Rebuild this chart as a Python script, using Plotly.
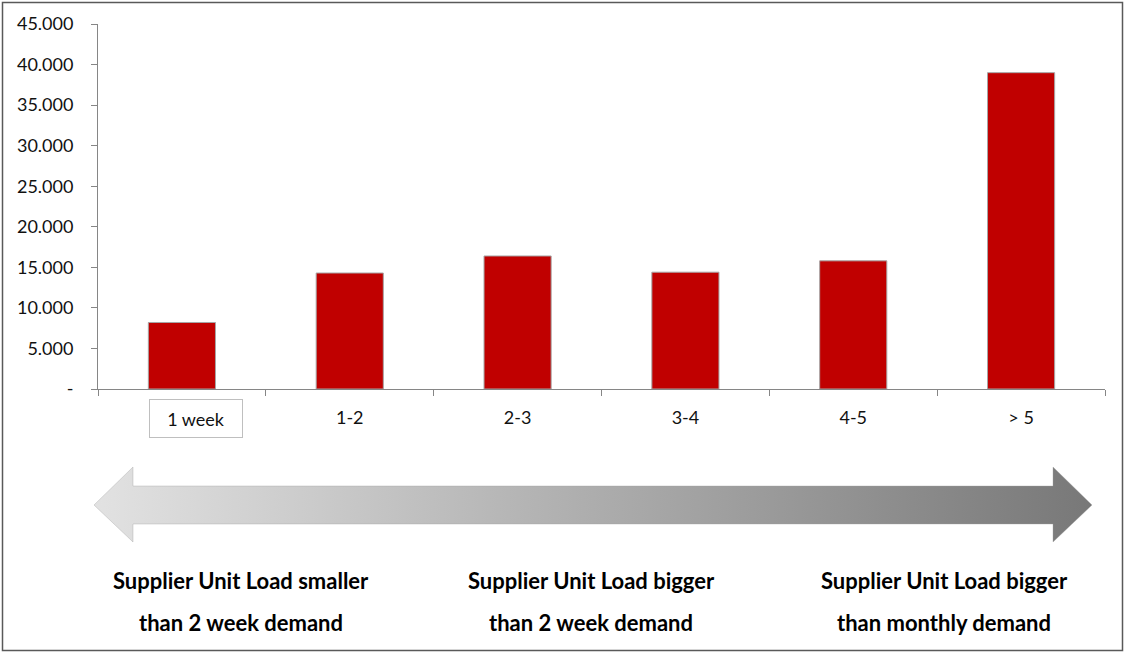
import plotly.graph_objects as go

categories = ["1 week", "1-2", "2-3", "3-4", "4-5", "> 5"]
values = [8200, 14300, 16400, 14400, 15800, 39000]
y_tickvals = [0, 5000, 10000, 15000, 20000, 25000, 30000, 35000, 40000, 45000]
y_ticktext = ["-", "5.000", "10.000", "15.000", "20.000", "25.000", "30.000", "35.000", "40.000", "45.000"]
x_ticktext = ["", "1-2", "2-3", "3-4", "4-5", "> 5"]
bottom_labels = [
    ("Supplier Unit Load smaller", "than 2 week demand"),
    ("Supplier Unit Load bigger", "than 2 week demand"),
    ("Supplier Unit Load bigger", "than monthly demand"),
]

W, H = 1125, 653
FONT = "Lato"
AX = "#868686"
TXT = "#111111"

fig = go.Figure()
fig.add_trace(go.Bar(
    x=categories, y=values, width=0.4,
    marker=dict(color="#c00000", line=dict(color="#a6a6a6", width=1)),
    xaxis="x", yaxis="y", showlegend=False,
))

# double-headed gradient arrow on a pixel-coordinate overlay axis
ax_x = [94, 133, 133, 1053, 1053, 1092, 1053, 1053, 133, 133, 94]
ax_y = [505, 467, 486, 486, 467, 505, 542, 524, 524, 542, 505]
fig.add_trace(go.Scatter(
    x=ax_x, y=ax_y, mode="lines", fill="toself",
    line=dict(width=0.6, color="rgba(160,160,160,0.6)"),
    fillgradient=dict(type="horizontal", colorscale=[[0, "#e2e2e2"], [1, "#787878"]]),
    xaxis="x2", yaxis="y2", showlegend=False, hoverinfo="skip",
))

fig.update_layout(
    template="none",
    width=W, height=H, autosize=False,
    margin=dict(l=0, r=0, t=0, b=0, pad=0, autoexpand=False),
    paper_bgcolor="white", plot_bgcolor="rgba(0,0,0,0)",
    font=dict(family=FONT, color=TXT),
    bargap=0.6,
    xaxis=dict(
        domain=[98 / W, 1105 / W], type="category", range=[-0.5, 5.5],
        tickmode="array", tickvals=categories, ticktext=x_ticktext,
        tickson="boundaries", ticks="outside", ticklen=6, tickcolor=AX,
        showline=True, linecolor=AX, linewidth=1, showgrid=False, zeroline=False,
        tickfont=dict(size=18, family=FONT, color=TXT),
        ticklabelstandoff=12, fixedrange=True, automargin=False,
    ),
    yaxis=dict(
        domain=[(H - 389) / H, (H - 24) / H], range=[0, 45000],
        tickmode="array", tickvals=y_tickvals, ticktext=y_ticktext,
        ticks="outside", ticklen=6, tickcolor=AX,
        showline=True, linecolor=AX, linewidth=1, showgrid=False, zeroline=False,
        tickfont=dict(size=18, family=FONT, color=TXT),
        ticklabelstandoff=14, fixedrange=True, automargin=False,
    ),
    xaxis2=dict(domain=[0, 1], range=[0, W], visible=False, fixedrange=True,
                anchor="y2", automargin=False),
    yaxis2=dict(domain=[0, 1], range=[H, 0], visible=False, fixedrange=True,
                anchor="x2", automargin=False),
)

# boxed first category label
fig.add_annotation(
    x=categories[0], y=0, xref="x", yref="y", yanchor="top", xanchor="center",
    xshift=14, yshift=-10, text="1 week", showarrow=False,
    font=dict(size=18, family=FONT, color=TXT),
    bordercolor="#bfbfbf", borderwidth=1, width=90, height=35, bgcolor="white",
)

centers = [241, 591, 944]
for cx, (l1, l2) in zip(centers, bottom_labels):
    fig.add_annotation(x=cx, y=580, xref="x2", yref="y2", text=f"<b>{l1}</b>",
                       showarrow=False, font=dict(size=22, family=FONT, color="#000"))
    fig.add_annotation(x=cx, y=622, xref="x2", yref="y2", text=f"<b>{l2}</b>",
                       showarrow=False, font=dict(size=22, family=FONT, color="#000"))

# outer frame
fig.add_shape(type="rect", xref="x2", yref="y2", x0=2.5, x1=W - 2.5, y0=2.5, y1=H - 2.5,
              line=dict(color="#595959", width=1.5), layer="above")

post = (
    "document.documentElement.style.margin='0';"
    "document.documentElement.style.overflow='hidden';"
    "document.body.style.margin='0';document.body.style.padding='0';"
    "document.body.style.overflow='hidden';"
    "var gd=document.getElementById('{plot_id}');"
    "gd.style.position='absolute';gd.style.left='0px';gd.style.top='0px';"
)

fig.write_html("out.html", post_script=post, config={"displayModeBar": False})
